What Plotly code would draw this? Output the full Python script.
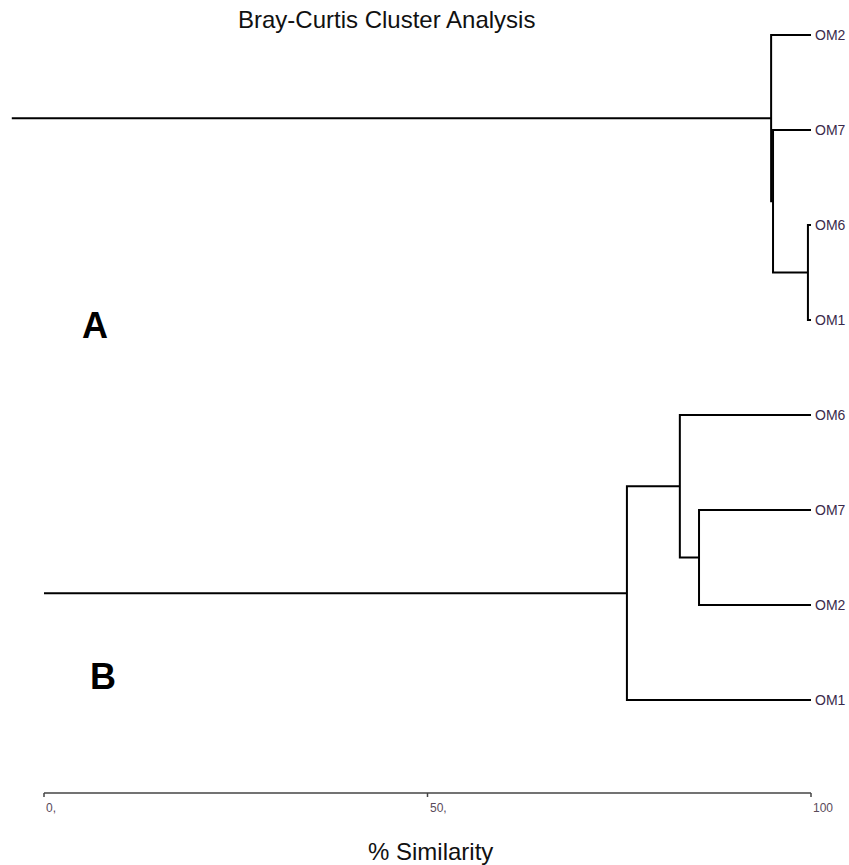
import plotly.graph_objects as go

# ---------------- data ----------------
title_text = "Bray-Curtis Cluster Analysis"
axis_title = "% Similarity"
tick_values = [0, 50, 100]
tick_labels = ["0,", "50,", "100"]

# Tree A: leaf order (top to bottom) and merges (scipy-like: ids >= n are clusters)
tree_a_leaves = ["OM2", "OM7", "OM6", "OM1"]
tree_a_merges = [[2, 3, 99.6], [1, 4, 95.05], [0, 5, 94.8]]
tree_a_root_start = -4.2

# Tree B
tree_b_leaves = ["OM6", "OM7", "OM2", "OM1"]
tree_b_merges = [[1, 2, 85.4], [0, 4, 82.9], [5, 3, 76.0]]
tree_b_root_start = 0.0

leaf_x = 100.0

# ---------------- layout constants ----------------
W, H = 849, 865
PX_PER_UNIT = 7.67
X0_PX = 44
SLOT_PX = 95
SLOT0_PX = 35


def dendro_lines(leaves, merges, slot_offset, root_start):
    n = len(leaves)
    pos = {}
    for i in range(n):
        pos[i] = (leaf_x, slot_offset + i)
    xs, ys = [], []
    for k, (a, b, sim) in enumerate(merges):
        xa, ya = pos[a]
        xb, yb = pos[b]
        xs += [xa, sim, sim, xb, None]
        ys += [ya, ya, yb, yb, None]
        pos[n + k] = (sim, (ya + yb) / 2)
    rx, ry = pos[n + len(merges) - 1]
    xs += [rx, root_start, None]
    ys += [ry, ry, None]
    return xs, ys


fig = go.Figure()

label_x, label_y, label_t = [], [], []
for leaves, merges, off, rs in [
    (tree_a_leaves, tree_a_merges, 0, tree_a_root_start),
    (tree_b_leaves, tree_b_merges, 4, tree_b_root_start),
]:
    xs, ys = dendro_lines(leaves, merges, off, rs)
    fig.add_trace(go.Scatter(x=xs, y=ys, mode="lines",
                             line=dict(color="black", width=2),
                             hoverinfo="skip", showlegend=False))
    for i, name in enumerate(leaves):
        label_x.append(leaf_x)
        label_y.append(off + i)
        label_t.append(name)

for x, y, t in zip(label_x, label_y, label_t):
    fig.add_annotation(x=x, y=y, xref="x", yref="y", text=t, showarrow=False,
                       xanchor="left", yanchor="middle", xshift=2,
                       font=dict(family="Liberation Sans, Arial", size=14, color="#3a2a4a"))


def px_x(px):
    return px / W


def px_y(px):
    return 1 - px / H


# axis line + ticks
axis_px = 793
fig.add_shape(type="line", xref="x", yref="paper", x0=0, x1=100,
              y0=px_y(axis_px), y1=px_y(axis_px), line=dict(color="#444", width=1.5))
for v, t in zip(tick_values, tick_labels):
    fig.add_shape(type="line", xref="x", yref="paper", x0=v, x1=v,
                  y0=px_y(axis_px), y1=px_y(axis_px + 4), line=dict(color="#444", width=1.5))
    fig.add_annotation(x=v, y=px_y(808), xref="x", yref="paper", text=t, showarrow=False,
                       xanchor="left", yanchor="middle", xshift=0,
                       font=dict(family="Liberation Sans, Arial", size=12, color="#5a4a5a"))

fig.add_annotation(x=px_x(386), y=px_y(20), xref="paper", yref="paper", text=title_text,
                   showarrow=False, xanchor="center", yanchor="middle",
                   font=dict(family="Liberation Sans, Arial", size=24, color="#111"))
fig.add_annotation(x=px_x(430), y=px_y(851), xref="paper", yref="paper", text=axis_title,
                   showarrow=False, xanchor="center", yanchor="middle",
                   font=dict(family="Liberation Sans, Arial", size=24, color="#111"))
fig.add_annotation(x=px_x(95), y=px_y(325), xref="paper", yref="paper", text="<b>A</b>",
                   showarrow=False, xanchor="center", yanchor="middle",
                   font=dict(family="Liberation Sans, Arial", size=36, color="black"))
fig.add_annotation(x=px_x(103), y=px_y(676), xref="paper", yref="paper", text="<b>B</b>",
                   showarrow=False, xanchor="center", yanchor="middle",
                   font=dict(family="Liberation Sans, Arial", size=36, color="black"))

x_lo = -X0_PX / PX_PER_UNIT
x_hi = (W - X0_PX) / PX_PER_UNIT
y_top = -SLOT0_PX / SLOT_PX
y_bot = (H - SLOT0_PX) / SLOT_PX

fig.update_layout(
    width=W, height=H,
    margin=dict(l=0, r=0, t=0, b=0),
    paper_bgcolor="white", plot_bgcolor="white",
    xaxis=dict(range=[x_lo, x_hi], visible=False, fixedrange=True),
    yaxis=dict(range=[y_bot, y_top], visible=False, fixedrange=True),
    showlegend=False,
)

fig.write_html(
    "out.html",
    config={"displayModeBar": False},
    post_script="document.body.style.margin='0px';document.body.style.overflow='hidden';",
)
